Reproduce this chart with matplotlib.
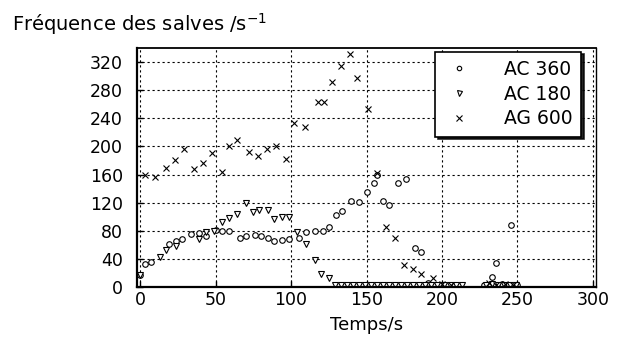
import matplotlib
matplotlib.use("Agg")
import matplotlib.pyplot as plt

# ---- data ----
ac360_t = [0, 3, 7, 19, 24, 28, 34, 39, 44, 50, 54, 59, 66, 70, 76, 80, 85, 89, 94, 99,
           105, 110, 116, 121, 125, 130, 134, 140, 145, 150, 155, 157, 161, 165, 171, 176,
           182, 186, 191, 195, 199, 203, 207, 211, 228, 233, 236, 240, 246, 250]
ac360_v = [17, 33, 35, 61, 65, 68, 75, 77, 72, 81, 80, 80, 70, 72, 74, 72, 70, 66, 67, 68,
           70, 78, 80, 80, 86, 102, 108, 123, 121, 135, 148, 160, 122, 116, 148, 154,
           55, 50, 5, 3, 3, 3, 3, 3, 3, 14, 34, 4, 88, 3]

ac180_t = [0, 13, 17, 24, 39, 44, 49, 54, 59, 64, 70, 75, 79, 85, 89, 94, 99, 104, 110,
           116, 120, 125, 129, 133, 137, 141, 145, 149, 153, 157, 161, 165, 169, 173, 177,
           181, 185, 189, 193, 197, 201, 205, 209, 213, 229, 233, 237, 241, 245, 249]
ac180_v = [17, 43, 52, 58, 68, 78, 80, 93, 98, 104, 120, 107, 110, 109, 97, 99, 99, 78, 61,
           39, 19, 13, 3, 3, 3, 3, 3, 3, 3, 3, 3, 3, 3, 3, 3,
           3, 3, 3, 3, 3, 3, 3, 3, 3, 3, 4, 3, 3, 3, 3]

ag600_t = [3, 10, 17, 23, 29, 36, 42, 48, 54, 59, 64, 72, 78, 84, 90, 97, 102, 109, 118,
           122, 127, 133, 139, 144, 151, 157, 163, 169, 175, 181, 186, 194, 200, 206, 231,
           236, 242, 247]
ag600_v = [160, 156, 169, 181, 196, 168, 176, 190, 163, 200, 209, 192, 187, 197, 200, 182,
           234, 227, 263, 263, 291, 315, 332, 298, 253, 162, 85, 70, 31, 25, 18, 13, 4, 3, 5,
           3, 4, 3]

series_labels = ["AC 360", "AC 180", "AG 600"]
x_ticks = [0, 50, 100, 150, 200, 250, 300]
y_ticks = [0, 40, 80, 120, 160, 200, 240, 280, 320]

plt.rcParams['font.family'] = ['DejaVu Sans']

fig = plt.figure(figsize=(6.19, 3.38), dpi=100)
ax = fig.add_axes([137 / 619, 1 - 287 / 338, (596 - 137) / 619, (287 - 48) / 338])

mk = dict(linestyle='none', markeredgecolor='black', markeredgewidth=0.8)
h1, = ax.plot(ac360_t, ac360_v, marker='o', markersize=4, markerfacecolor='white',
              label=series_labels[0], **mk)
h2, = ax.plot(ac180_t, ac180_v, marker='v', markersize=4.5, markerfacecolor='white',
              label=series_labels[1], **mk)
h3, = ax.plot(ag600_t, ag600_v, marker='x', markersize=5,
              label=series_labels[2], **mk)

ax.set_xlim(-2, 302)
ax.set_ylim(0, 340)
ax.set_xticks(x_ticks)
ax.set_yticks(y_ticks)
ax.tick_params(direction='in', length=4, width=1, labelsize=12.5, colors='black')
ax.tick_params(axis='y', pad=10)
ax.tick_params(axis='x', pad=3)

ax.grid(True, color='black', linestyle=(0, (2, 2.5)), linewidth=0.8)
ax.set_axisbelow(True)

for side, lw in [('left', 1.6), ('bottom', 1.6), ('top', 1.3), ('right', 1.0)]:
    ax.spines[side].set_linewidth(lw)
    ax.spines[side].set_color('black')

ax.set_xlabel("Temps/s", fontsize=13, labelpad=5)
fig.text(12 / 619, 1 - 24 / 338, "Fréquence des salves /s$^{-1}$", fontsize=14,
         va='center', ha='left')

leg = ax.legend(handles=[h1, h2, h3], loc='upper right', bbox_to_anchor=(0.967, 0.985),
                fontsize=13.5, frameon=True, fancybox=False, edgecolor='black',
                shadow={'color': 'black', 'alpha': 0.85}, borderpad=0.45,
                handlelength=1.6, handletextpad=1.6, labelspacing=0.3,
                borderaxespad=0, markerscale=0.8)
leg.get_frame().set_linewidth(1.2)
leg.get_frame().set_alpha(1)

fig.savefig("out.png", dpi=100, facecolor='white')
